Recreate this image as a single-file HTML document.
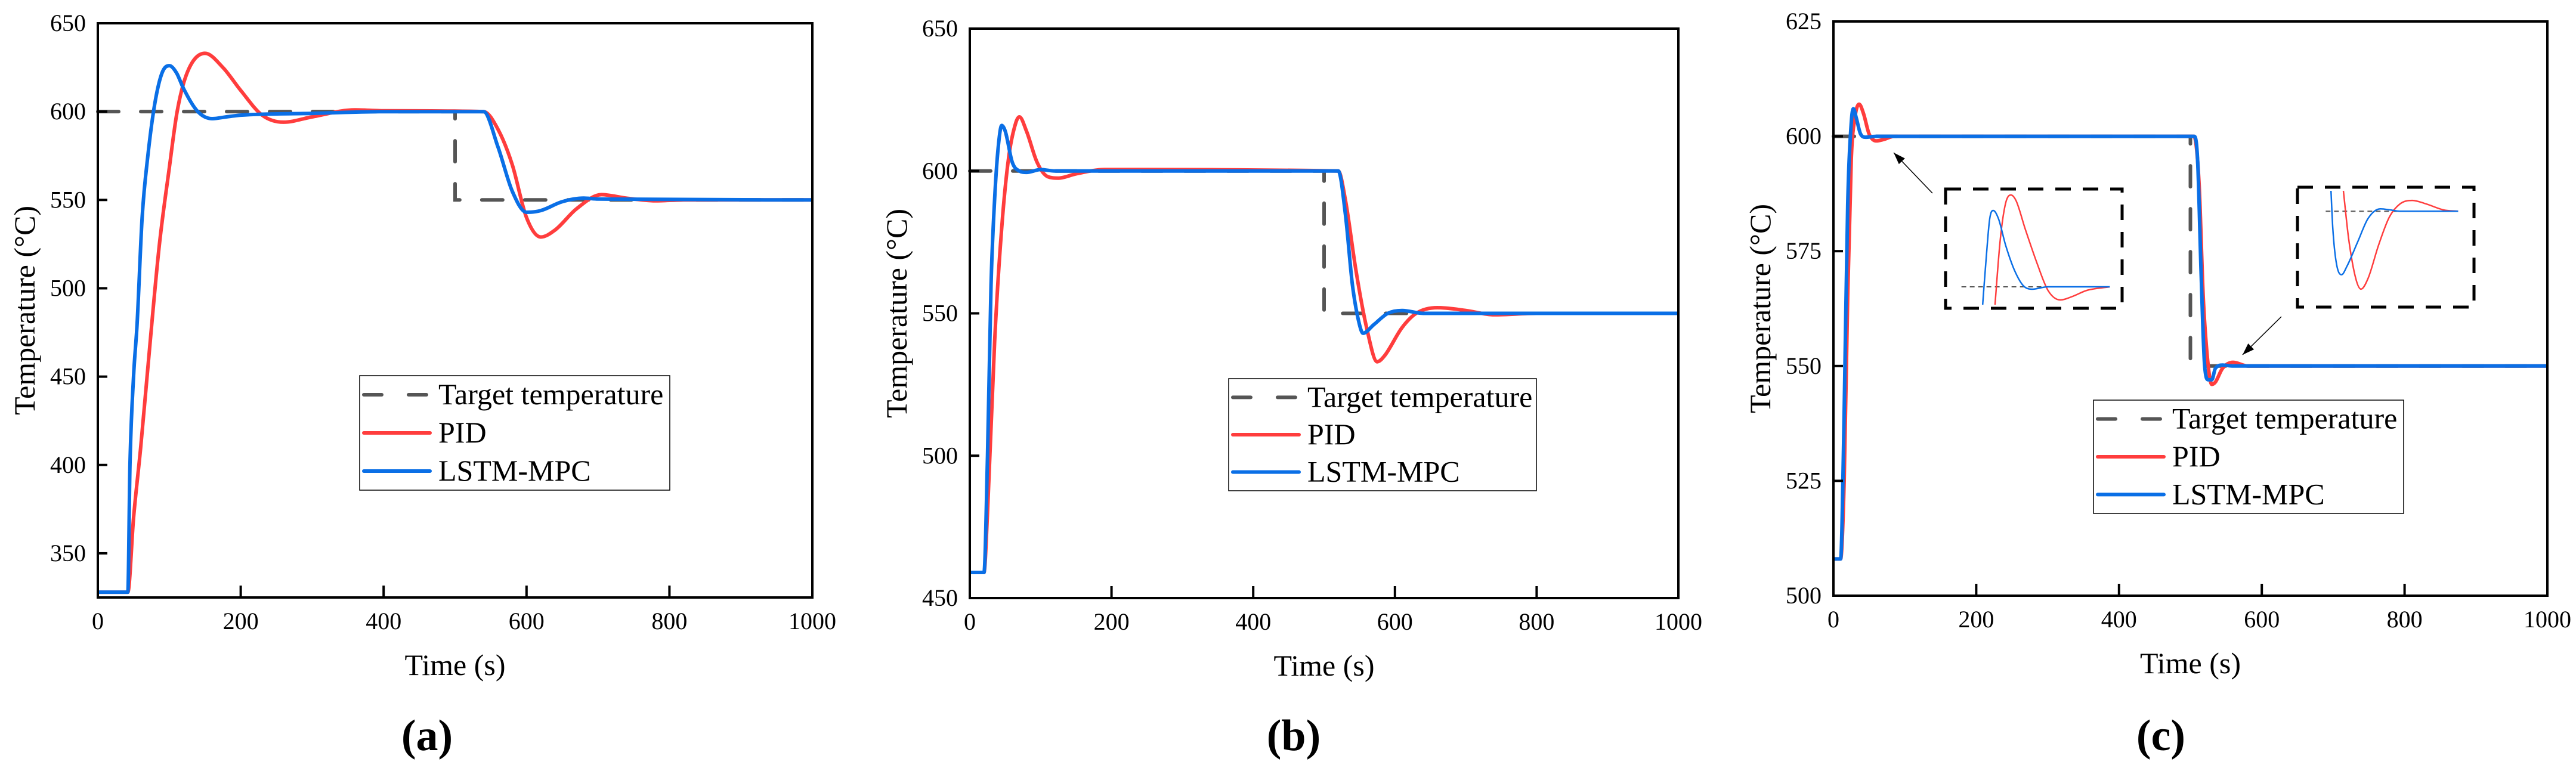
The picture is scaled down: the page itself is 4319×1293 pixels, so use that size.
<!DOCTYPE html>
<html><head><meta charset="utf-8"><style>
html,body{margin:0;padding:0;background:#fff;}
svg, svg text{font-family:"Liberation Serif","DejaVu Serif","Times New Roman",serif;}
</style></head><body>
<svg id="fig" width="4319" height="1288" viewBox="0 0 4319 1288" xmlns="http://www.w3.org/2000/svg"></svg>
<script>
// ---- Panel (a) data ----
const aTarget = [[0,600],[500,600],[500,550],[1000,550]];
const aPidT = [0,42,50,60,70,86,100,111,125,150,175,200,230,260,300,360,400,540,560,580,600,620,640,670,705,740,780,820,1000];
const aPidV = [328,328,370,410,455,524,568,600,622,633,625,612,598,594,597,601,600.5,600,590,570,540,529,533,545,553,551,549.5,550,550];
const aMpcT = [0,42,45,50,55,62,70,80,90,100,110,120,140,160,180,200,300,400,540,560,580,600,620,650,680,700,1000];
const aMpcV = [328,328,400,450,480,540,575,605,622,626,622,613,600,596,597,598,599,600,600,580,555,543,544,549,551,550.5,550];
// ---- Panel (b) data ----
const bTarget = [[0,600],[500,600],[500,550],[1000,550]];
const bPidT = [0,20,25,35,45,55,65,70,80,95,110,125,150,190,520,530,545,560,575,585,610,630,660,700,740,800,1000];
const bPidV = [459,459,480,540,580,605,617,619,614,603,598,597.5,599,600.5,600,590,565,545,533,535,545,550,552,551,549.5,550,550];
const bMpcT = [0,20,25,30,35,40,45,50,60,70,80,100,120,520,530,540,550,555,570,590,610,640,1000];
const bMpcV = [459,459,500,560,590,608,616,614,603,600,599.5,600.5,600,600,585,560,546,543,546,550,551,550,550];
// ---- Panel (c) data ----
const cTarget = [[0,600],[500,600],[500,550],[1000,550]];
const cPidT = [0,10,15,20,25,30,36,42,50,60,70,85,505,512,518,525,530,535,545,560,580,1000];
const cPidV = [508,508,525,565,595,604,607,605,600.5,599,599.3,600,600,590,565,550,546,546.5,549.5,550.8,550,550];
const cMpcT = [0,10,15,20,25,28,32,38,45,60,505,510,515,520,525,530,535,545,560,1000];
const cMpcV = [508,508,540,585,603,606,604,600.5,599.8,600,600,595,570,550,547,547,549.5,550.2,550,550];
// ---- tick labels ----
const xTicks = [0,200,400,600,800,1000];
const aYTicks = [350,400,450,500,550,600,650];
const bYTicks = [450,500,550,600,650];
const cYTicks = [500,525,550,575,600,625];
// ---- zoom inset shapes (fractions of inset box) ----
const in1Mpc = [[0.21,0.97],[0.23,0.58],[0.25,0.25],[0.27,0.18],[0.30,0.25],[0.34,0.47],[0.39,0.68],[0.44,0.81],[0.49,0.84],[0.58,0.82],[0.66,0.82],[0.78,0.82],[0.93,0.82]];
const in1Pid = [[0.28,0.97],[0.31,0.42],[0.34,0.12],[0.37,0.05],[0.40,0.10],[0.45,0.33],[0.52,0.63],[0.58,0.85],[0.65,0.93],[0.72,0.90],[0.80,0.85],[0.93,0.82]];
const in2Mpc = [[0.19,0.03],[0.20,0.34],[0.22,0.63],[0.25,0.73],[0.28,0.66],[0.34,0.46],[0.40,0.26],[0.47,0.18],[0.53,0.19],[0.58,0.20],[0.91,0.20]];
const in2Pid = [[0.26,0.03],[0.29,0.43],[0.33,0.76],[0.36,0.85],[0.40,0.76],[0.46,0.48],[0.52,0.25],[0.58,0.14],[0.65,0.11],[0.73,0.14],[0.83,0.19],[0.91,0.20]];

const NS = "http://www.w3.org/2000/svg";
const svg = document.getElementById('fig');
const RED = "#ff3d3d", BLUE = "#0a6fe6", GRAY = "#555555";
function mk(tag, attrs, parent){const e=document.createElementNS(NS,tag);for(const k in attrs)e.setAttribute(k,attrs[k]);(parent||svg).appendChild(e);return e;}
function mono(p){
  const n=p.length;const d=[],m=[];
  for(let i=0;i<n-1;i++){const dx=p[i+1][0]-p[i][0];d.push(dx===0?0:(p[i+1][1]-p[i][1])/dx);}
  m[0]=d[0];m[n-1]=d[n-2];
  for(let i=1;i<n-1;i++){m[i]=(d[i-1]*d[i]<=0)?0:(d[i-1]+d[i])/2;}
  for(let i=0;i<n-1;i++){
    if(d[i]===0){m[i]=0;m[i+1]=0;continue;}
    const a=m[i]/d[i],b=m[i+1]/d[i],s=a*a+b*b;
    if(s>9){const t=3/Math.sqrt(s);m[i]=t*a*d[i];m[i+1]=t*b*d[i];}
  }
  let s="M"+p[0][0].toFixed(1)+","+p[0][1].toFixed(1);
  for(let i=0;i<n-1;i++){
    const dx=(p[i+1][0]-p[i][0])/3;
    s+=" C"+(p[i][0]+dx).toFixed(1)+","+(p[i][1]+m[i]*dx).toFixed(1)+" "+(p[i+1][0]-dx).toFixed(1)+","+(p[i+1][1]-m[i+1]*dx).toFixed(1)+" "+p[i+1][0].toFixed(1)+","+p[i+1][1].toFixed(1);
  }
  return s;
}
function txt(attrs,parent,content,name){
  const t=mk('text',attrs,parent);t.textContent=content;
  t.style.fontFamily='"Liberation Serif","DejaVu Serif",serif';
  
  
  return t;
}
function panel(cfg){
  const g=mk('g',{});
  
  
  const X=v=>cfg.x0+(v/1000)*(cfg.x1-cfg.x0);
  const Y=v=>cfg.y1-(v-cfg.ymin)/(cfg.ymax-cfg.ymin)*(cfg.y1-cfg.y0);
  const tp=mk('path',{d:"M"+cfg.target.map(p=>X(p[0])+","+Y(p[1])).join(" L"),fill:"none",stroke:GRAY,"stroke-width":6,"stroke-dasharray":"35 37","stroke-linecap":"round"},g);
  
  
  const pid=mk('path',{d:mono(cfg.pidT.map((t,i)=>[X(t),Y(cfg.pidV[i])])),fill:"none",stroke:RED,"stroke-width":6,"stroke-linejoin":"round"},g);
  
  
  const mpc=mk('path',{d:mono(cfg.mpcT.map((t,i)=>[X(t),Y(cfg.mpcV[i])])),fill:"none",stroke:BLUE,"stroke-width":6,"stroke-linejoin":"round"},g);
  
  
  const fr=mk('rect',{x:cfg.x0,y:cfg.y0,width:cfg.x1-cfg.x0,height:cfg.y1-cfg.y0,fill:"none",stroke:"#000","stroke-width":4},g);
  
  
  xTicks.forEach(t=>{
    const tk=mk('line',{x1:X(t),x2:X(t),y1:cfg.y1,y2:cfg.y1-20,stroke:"#000","stroke-width":4},g);
    
    
    txt({x:X(t),y:cfg.y1+53,"font-size":40,"text-anchor":"middle"},g,String(t),'x-tick-label');
  });
  cfg.yTicks.forEach(v=>{
    const tk=mk('line',{x1:cfg.x0,x2:cfg.x0+16,y1:Y(v),y2:Y(v),stroke:"#000","stroke-width":4},g);
    
    
    txt({x:cfg.x0-20,y:Y(v)+13,"font-size":40,"text-anchor":"end"},g,String(v),'y-tick-label');
  });
  txt({x:(cfg.x0+cfg.x1)/2,y:cfg.y1+130,"font-size":50,"text-anchor":"middle"},g,"Time (s)",'x-axis-title');
  txt({x:0,y:0,"font-size":50,"text-anchor":"middle",transform:`translate(${cfg.ytx},${(cfg.y0+cfg.y1)/2}) rotate(-90)`},g,"Temperature (°C)",'y-axis-title');
  txt({x:cfg.labx,y:1258,"font-size":74,"font-weight":"bold","text-anchor":"middle"},g,"("+cfg.letter+")",'panel-label');
  const L=cfg.leg;
  const lg=mk('g',{},g);
  
  
  mk('rect',{x:L[0],y:L[1],width:L[2]-L[0],height:L[3]-L[1],fill:"#fff",stroke:"#000","stroke-width":1.5},lg);
  const rowH=(L[3]-L[1])/3;
  const items=[["Target temperature",GRAY,true],["PID",RED,false],["LSTM-MPC",BLUE,false]];
  items.forEach((it,i)=>{
    const cy=L[1]+rowH*(i+0.5);
    const e=mk('g',{},lg);
    
    
    mk('line',{x1:L[0]+7,x2:L[0]+118,y1:cy,y2:cy,stroke:it[1],"stroke-width":6,"stroke-dasharray":it[2]?"30 45":"none","stroke-linecap":"round"},e);
    txt({x:L[0]+132,y:cy+16,"font-size":50},e,it[0],'legend-label');
  });
  return {g,X,Y};
}
panel({name:"panel-a",letter:"a",x0:164,x1:1362,y0:39,y1:1002,ymin:325,ymax:650,target:aTarget,pidT:aPidT,pidV:aPidV,mpcT:aMpcT,mpcV:aMpcV,yTicks:aYTicks,ytx:58,labx:716,leg:[603,630,1123,822]});
panel({name:"panel-b",letter:"b",x0:1626,x1:2814,y0:48,y1:1003,ymin:450,ymax:650,target:bTarget,pidT:bPidT,pidV:bPidV,mpcT:bMpcT,mpcV:bMpcV,yTicks:bYTicks,ytx:1520,labx:2169,leg:[2060,635,2576,823]});
const pc=panel({name:"panel-c",letter:"c",x0:3074,x1:4271,y0:36,y1:999,ymin:500,ymax:625,target:cTarget,pidT:cPidT,pidV:cPidV,mpcT:cMpcT,mpcV:cMpcV,yTicks:cYTicks,ytx:2968,labx:3623,leg:[3510,671,4030,861]});
function inset(box,mpc,pid,tgt,name){
  const g=mk('g',{},pc.g);
  
  
  const bx=f=>box[0]+f*(box[2]-box[0]), by=f=>box[1]+f*(box[3]-box[1]);
  mk('line',{x1:bx(tgt[1]),x2:bx(tgt[2]),y1:by(tgt[0]),y2:by(tgt[0]),stroke:GRAY,"stroke-width":2,"stroke-dasharray":"8 6"},g);
  mk('path',{d:mono(pid.map(p=>[bx(p[0]),by(p[1])])),fill:"none",stroke:RED,"stroke-width":2.5},g);
  mk('path',{d:mono(mpc.map(p=>[bx(p[0]),by(p[1])])),fill:"none",stroke:BLUE,"stroke-width":2.5},g);
  mk('rect',{x:box[0],y:box[1],width:box[2]-box[0],height:box[3]-box[1],fill:"none",stroke:"#000","stroke-width":5,"stroke-dasharray":"26 20"},g);
}
inset([3262,317,3558,517],in1Mpc,in1Pid,[0.82,0.09,0.93],"zoom-inset-rise");
inset([3852,314,4148,515],in2Mpc,in2Pid,[0.20,0.16,0.91],"zoom-inset-drop");
function arrow(x1,y1,x2,y2,name){
  const g=mk('g',{},pc.g);
  
  
  mk('line',{x1,y1,x2,y2,stroke:"#000","stroke-width":1.5},g);
  const a=Math.atan2(y2-y1,x2-x1),L=20,W=7;
  const bx=x2-L*Math.cos(a),by=y2-L*Math.sin(a);
  mk('polygon',{points:`${x2},${y2} ${bx+W*Math.sin(a)},${by-W*Math.cos(a)} ${bx-W*Math.sin(a)},${by+W*Math.cos(a)}`,fill:"#000"},g);
}
arrow(3240,324,3175,256,"arrow-to-rise");
arrow(3825,531,3760,595,"arrow-to-drop");
</script>
</body></html>
